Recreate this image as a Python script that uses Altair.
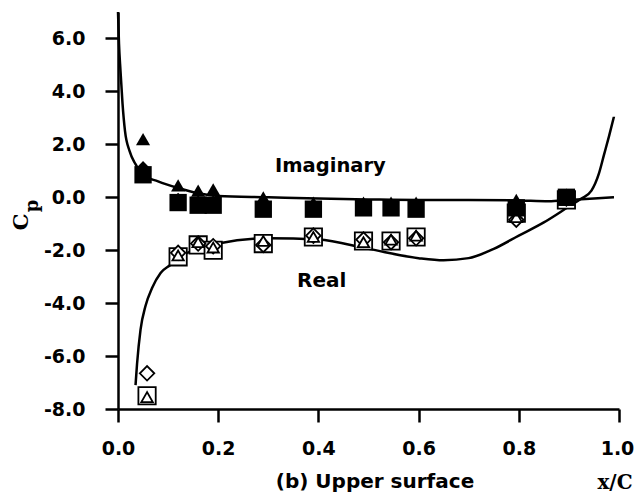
import altair as alt
import pandas as pd

# ---- theoretical curves ----
imag_curve_x = [0.0, 0.002, 0.005, 0.009, 0.014, 0.023, 0.035, 0.048, 0.08, 0.12, 0.16, 0.2, 0.3, 0.4, 0.5, 0.6, 0.7, 0.8, 0.86, 0.9, 0.95, 0.99]
imag_curve_y = [7.0, 5.8, 4.77, 3.55, 2.5, 1.75, 1.25, 0.87, 0.6, 0.35, 0.15, 0.05, 0.0, -0.05, -0.08, -0.1, -0.1, -0.12, -0.15, -0.1, -0.05, 0.0]

real_curve_x = [0.035, 0.038, 0.045, 0.055, 0.068, 0.085, 0.105, 0.12, 0.15, 0.2, 0.3, 0.4, 0.5, 0.6, 0.65, 0.7, 0.75, 0.8, 0.85, 0.9, 0.925, 0.945, 0.96, 0.97, 0.98, 0.99]
real_curve_y = [-7.1, -6.3, -5.0, -4.1, -3.43, -2.86, -2.55, -2.3, -2.0, -1.75, -1.55, -1.6, -1.95, -2.3, -2.38, -2.3, -1.95, -1.45, -0.95, -0.35, -0.05, 0.25, 0.9, 1.6, 2.3, 3.05]

# ---- measured points ----
imag_x = [0.05, 0.12, 0.16, 0.19, 0.29, 0.39, 0.49, 0.545, 0.595, 0.795, 0.895]
imag_tri = [2.2, 0.45, 0.25, 0.3, 0.0, -0.2, -0.2, -0.2, -0.2, -0.1, 0.1]
imag_sq = [0.85, -0.2, -0.3, -0.3, -0.45, -0.45, -0.4, -0.4, -0.45, -0.4, 0.0]
imag_dia = [1.1, -0.1, -0.2, -0.2, -0.35, -0.35, -0.35, -0.35, -0.35, -0.3, 0.05]

real_x = [0.058, 0.12, 0.16, 0.19, 0.29, 0.39, 0.49, 0.545, 0.595, 0.795, 0.895]
real_sq = [-7.5, -2.25, -1.8, -2.0, -1.75, -1.5, -1.65, -1.65, -1.5, -0.6, -0.1]
real_tri = [-7.55, -2.2, -1.7, -1.9, -1.65, -1.5, -1.7, -1.6, -1.45, -0.75, -0.1]
real_dia = [-6.65, -2.1, -1.75, -1.85, -1.8, -1.45, -1.6, -1.7, -1.55, -0.85, -0.05]

x_ticks = [0.0, 0.2, 0.4, 0.6, 0.8, 1.0]
y_ticks = [-8.0, -6.0, -4.0, -2.0, 0.0, 2.0, 4.0, 6.0]

xs = alt.Scale(domain=[0, 1.0], nice=False)
ys = alt.Scale(domain=[-8, 7], nice=False)
xax = alt.Axis(values=x_ticks, format=".1f", title=None, labelPadding=17, labelFlush=False,
               labelOffset={"condition": {"test": "datum.value == 1", "value": -2}, "value": 0})
yax = alt.Axis(values=y_ticks, title=None, labelPadding=20, labelFlush=False,
               labelExpr="replace(format(datum.value, '.1f'), '\u2212', '-')")

def pts(xv, yv):
    return pd.DataFrame({"x": xv, "y": yv})

enc = dict(x=alt.X("x:Q", scale=xs, axis=xax), y=alt.Y("y:Q", scale=ys, axis=yax))

imag_line = alt.Chart(pts(imag_curve_x, imag_curve_y)).mark_line(
    color="black", strokeWidth=2.5, interpolate="monotone").encode(**enc)
real_line = alt.Chart(pts(real_curve_x, real_curve_y)).mark_line(
    color="black", strokeWidth=2.5, interpolate="monotone").encode(**enc)

def filled(xv, yv, shape, size):
    return alt.Chart(pts(xv, yv)).mark_point(
        shape=shape, filled=True, color="black", size=size, opacity=1).encode(**enc)

def hollow(xv, yv, shape, size):
    return alt.Chart(pts(xv, yv)).mark_point(
        shape=shape, filled=True, fill="white", stroke="black", strokeWidth=1.8,
        size=size, opacity=1).encode(**enc)

layers = [
    imag_line, real_line,
    hollow(real_x, real_sq, "square", 300),
    hollow(real_x, real_dia, "diamond", 210),
    hollow(real_x, real_tri, "triangle-up", 130),
    filled(imag_x, imag_sq, "square", 300),
    filled(imag_x, imag_tri, "triangle-up", 200),
    filled(imag_x, imag_dia, "diamond", 200),
]

def label(text, x, y, size=19.5, font="DejaVu Sans", align="left", angle=0, baseline="alphabetic"):
    return alt.Chart(pd.DataFrame({"t": [text]})).mark_text(
        font=font, fontSize=size, fontWeight="bold", color="black",
        align=align, baseline=baseline, angle=angle
    ).encode(text="t:N", x=alt.value(x), y=alt.value(y))

layers += [
    label("Imaginary", 157, 160),
    label("Real", 179, 275, size=20),
    label("(b) Upper surface", 257, 476, size=20, align="center"),
    label("x/C", 497, 477, size=20, font="DejaVu Serif", align="center"),
    label("C", -96, 210, size=21, font="DejaVu Serif", align="center", angle=270, baseline="middle"),
    label("p", -85, 194, size=18, font="DejaVu Serif", align="center", angle=270, baseline="middle"),
]

chart = alt.layer(*layers).properties(
    width=501, height=397,
    autosize=alt.AutoSizeParams(type="none"),
    padding={"left": 110, "top": 4, "right": 15, "bottom": 86},
).configure_view(stroke=None).configure_axis(
    grid=False,
    domainColor="black", domainWidth=2.5,
    tickColor="black", tickWidth=2.5, tickSize=13,
    labelFont="DejaVu Sans", labelFontWeight="bold", labelFontSize=19, labelColor="black",
)

chart.save("out.html", embed_options={"renderer": "svg", "actions": False})
